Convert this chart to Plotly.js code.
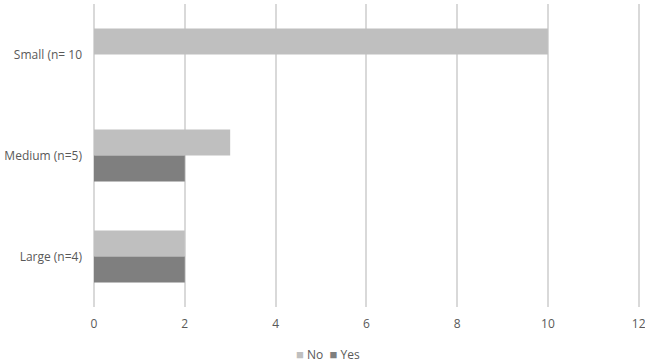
<!DOCTYPE html>
<html>
<head>
<meta charset="utf-8">
<script src="https://cdn.plot.ly/plotly-3.0.1.min.js"></script>
<style>html,body{margin:0;padding:0;background:#fff}#chart{width:645px;height:362px}</style>
</head>
<body>
<div id="chart"></div>
<script>
var categories = ["Small (n= 10", "Medium (n=5)", "Large (n=4)"];
var noValues = [10, 3, 2];
var yesValues = [0, 2, 2];
var xTicks = [0, 2, 4, 6, 8, 10, 12];
var seriesNames = ["No", "Yes"];
var seriesColors = ["#bfbfbf", "#7f7f7f"];

var traces = [
  {type: "bar", orientation: "h", name: seriesNames[0], y: categories, x: noValues,
   marker: {color: seriesColors[0]}, hoverinfo: "x+y"},
  {type: "bar", orientation: "h", name: seriesNames[1], y: categories, x: yesValues,
   marker: {color: seriesColors[1]}, hoverinfo: "x+y"}
];

var legendText = seriesNames.map(function (n, i) {
  return '<span style="color:' + seriesColors[i] + ';font-size:13px">■</span>&nbsp;' + n;
}).join('&nbsp;&nbsp;');

var layout = {
  width: 645, height: 362,
  margin: {l: 94, r: 4, t: 4, b: 55},
  paper_bgcolor: "#fff", plot_bgcolor: "#fff",
  font: {family: "Open Sans, Liberation Sans, sans-serif", size: 12, color: "#595959"},
  barmode: "group",
  bargap: 0.485,
  bargroupgap: 0,
  xaxis: {
    range: [0, 12.05], tickvals: xTicks, ticktext: xTicks.map(String),
    showgrid: true, gridcolor: "#d9d9d9", gridwidth: 2,
    zeroline: true, zerolinecolor: "#d9d9d9", zerolinewidth: 2,
    showline: false, ticks: "", ticklabelstandoff: 8, ticklabeloverflow: "allow",
    fixedrange: true
  },
  yaxis: {
    type: "category", categoryorder: "array", categoryarray: categories,
    autorange: "reversed", showgrid: false, zeroline: false, showline: false,
    ticks: "", ticklabelstandoff: 11, fixedrange: true
  },
  showlegend: false,
  annotations: [{
    xref: "paper", yref: "paper", x: (328 - 94) / 547, y: -0.155,
    xanchor: "center", yanchor: "middle", showarrow: false,
    text: legendText, font: {size: 12, color: "#595959"}
  }]
};

Plotly.newPlot("chart", traces, layout, {displayModeBar: false, staticPlot: true});
</script>
</body>
</html>
